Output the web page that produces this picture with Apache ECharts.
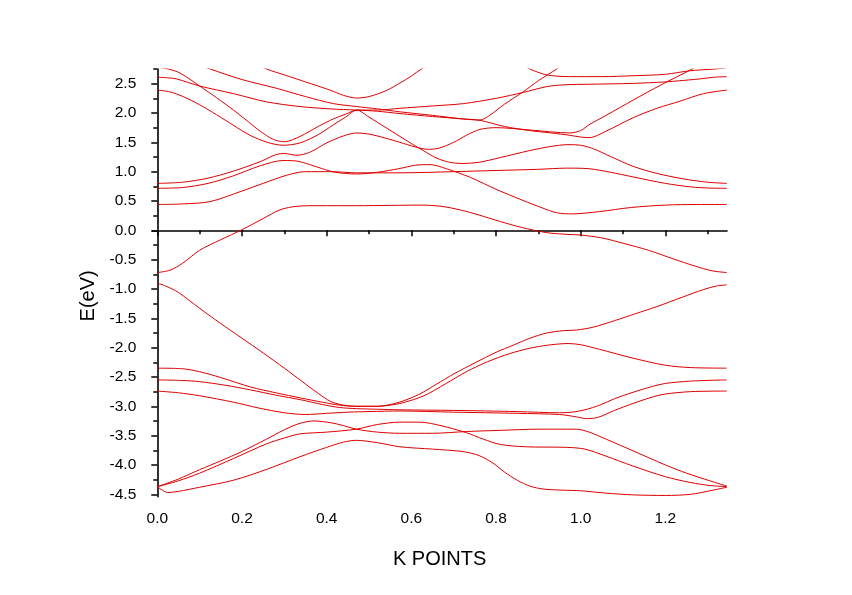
<!DOCTYPE html>
<html>
<head>
<meta charset="utf-8">
<script src="https://cdn.jsdelivr.net/npm/echarts@6/dist/echarts.min.js"></script>
<style>
  html, body { margin: 0; padding: 0; background: #fff; }
  #chart { width: 852px; height: 595px; }
</style>
</head>
<body>
<div id="chart"></div>
<script>
// ---- axis ticks ----
const kMajor = [0.0, 0.2, 0.4, 0.6, 0.8, 1.0, 1.2];
const kMinor = [0.1, 0.3, 0.5, 0.7, 0.9, 1.1, 1.3];
const eMajor = [-4.5, -4.0, -3.5, -3.0, -2.5, -2.0, -1.5, -1.0, -0.5, 0.0, 0.5, 1.0, 1.5, 2.0, 2.5];
const eMinor = [-4.25, -3.75, -3.25, -2.75, -2.25, -1.75, -1.25, -0.75, -0.25, 0.25, 0.75, 1.25, 1.75, 2.25, 2.75];
const kRange = [-0.0118, 1.3455];
const eRange = [-4.541, 2.75];

// ---- valence bands [k, E] ----
const vb1 = [[0,-0.90],[0.02,-0.95],[0.05,-1.06],[0.1,-1.33],[0.15,-1.59],[0.2,-1.84],[0.25,-2.09],[0.3,-2.35],[0.35,-2.62],[0.38,-2.78],[0.41,-2.92],[0.44,-2.98],[0.47,-3.00],[0.52,-3.00],[0.55,-2.97],[0.58,-2.91],[0.62,-2.79],[0.66,-2.62],[0.7,-2.45],[0.75,-2.26],[0.8,-2.08],[0.84,-1.96],[0.88,-1.84],[0.92,-1.75],[0.96,-1.71],[0.99,-1.70],[1.03,-1.65],[1.08,-1.54],[1.13,-1.42],[1.18,-1.30],[1.24,-1.14],[1.29,-1.01],[1.32,-0.95],[1.345,-0.93]];
const vb2 = [[0,-2.35],[0.06,-2.36],[0.1,-2.41],[0.15,-2.51],[0.22,-2.67],[0.28,-2.77],[0.34,-2.86],[0.39,-2.93],[0.43,-2.98],[0.47,-3.00],[0.52,-3.00],[0.55,-2.98],[0.58,-2.94],[0.63,-2.82],[0.68,-2.62],[0.73,-2.41],[0.78,-2.24],[0.833,-2.10],[0.88,-2.01],[0.92,-1.96],[0.97,-1.93],[1.0,-1.95],[1.045,-2.03],[1.124,-2.18],[1.2,-2.30],[1.26,-2.34],[1.345,-2.35]];
const vb3 = [[0,-2.55],[0.06,-2.56],[0.1,-2.58],[0.16,-2.64],[0.22,-2.72],[0.28,-2.81],[0.34,-2.89],[0.39,-2.97],[0.43,-3.02],[0.47,-3.04],[0.52,-3.05],[0.573,-3.06],[0.7,-3.07],[0.85,-3.09],[0.95,-3.11],[0.98,-3.10],[1.01,-3.06],[1.045,-2.98],[1.08,-2.87],[1.124,-2.76],[1.17,-2.66],[1.2,-2.61],[1.26,-2.57],[1.345,-2.55]];
const vb4 = [[0,-2.74],[0.05,-2.77],[0.1,-2.82],[0.18,-2.93],[0.24,-3.03],[0.3,-3.11],[0.35,-3.14],[0.4,-3.12],[0.45,-3.10],[0.5,-3.09],[0.573,-3.08],[0.7,-3.10],[0.85,-3.12],[0.95,-3.14],[0.99,-3.18],[1.014,-3.21],[1.04,-3.19],[1.08,-3.07],[1.124,-2.95],[1.17,-2.84],[1.2,-2.79],[1.26,-2.75],[1.345,-2.74]];
const vb5 = [[0,-4.37],[0.05,-4.24],[0.1,-4.08],[0.15,-3.93],[0.2,-3.77],[0.258,-3.56],[0.3,-3.40],[0.337,-3.29],[0.37,-3.25],[0.41,-3.28],[0.44,-3.33],[0.47,-3.39],[0.52,-3.44],[0.573,-3.46],[0.65,-3.46],[0.73,-3.43],[0.81,-3.41],[0.9,-3.39],[0.99,-3.39],[1.02,-3.44],[1.06,-3.56],[1.124,-3.76],[1.2,-4.0],[1.25,-4.14],[1.305,-4.27],[1.345,-4.36]];
const vb6 = [[0,-4.37],[0.05,-4.27],[0.1,-4.14],[0.18,-3.89],[0.258,-3.64],[0.3,-3.54],[0.337,-3.47],[0.4,-3.44],[0.47,-3.39],[0.52,-3.31],[0.573,-3.27],[0.62,-3.27],[0.67,-3.33],[0.73,-3.45],[0.77,-3.56],[0.81,-3.65],[0.87,-3.69],[0.967,-3.70],[1.01,-3.73],[1.06,-3.85],[1.124,-4.02],[1.2,-4.20],[1.26,-4.30],[1.305,-4.35],[1.345,-4.37]];
const vb7 = [[0,-4.37],[0.012,-4.43],[0.025,-4.47],[0.05,-4.45],[0.1,-4.38],[0.18,-4.26],[0.26,-4.07],[0.337,-3.86],[0.4,-3.70],[0.44,-3.61],[0.47,-3.58],[0.52,-3.62],[0.573,-3.69],[0.65,-3.73],[0.72,-3.77],[0.76,-3.84],[0.793,-3.97],[0.82,-4.12],[0.85,-4.26],[0.88,-4.36],[0.911,-4.41],[0.96,-4.43],[1.0,-4.44],[1.06,-4.48],[1.124,-4.51],[1.2,-4.52],[1.26,-4.50],[1.305,-4.44],[1.345,-4.38]];

// ---- conduction bands [k, E] ----
const cb1 = [[0,-0.72],[0.03,-0.68],[0.06,-0.56],[0.1,-0.34],[0.15,-0.16],[0.2,0.01],[0.25,0.20],[0.29,0.35],[0.33,0.41],[0.38,0.42],[0.47,0.42],[0.55,0.425],[0.62,0.43],[0.67,0.41],[0.72,0.34],[0.76,0.26],[0.81,0.15],[0.86,0.05],[0.92,-0.04],[0.97,-0.07],[1.0,-0.08],[1.05,-0.13],[1.1,-0.22],[1.16,-0.34],[1.22,-0.49],[1.27,-0.61],[1.31,-0.69],[1.345,-0.72]];
const cb2 = [[0,0.44],[0.06,0.45],[0.125,0.49],[0.2,0.67],[0.25,0.80],[0.306,0.94],[0.35,1.00],[0.41,1.00],[0.47,0.98],[0.573,0.98],[0.7,1.00],[0.8,1.02],[0.9,1.04],[0.967,1.06],[1.02,1.05],[1.07,0.99],[1.124,0.91],[1.2,0.80],[1.26,0.74],[1.305,0.72],[1.345,0.716]];
const cb3 = [[0,0.716],[0.06,0.73],[0.12,0.80],[0.18,0.93],[0.243,1.10],[0.297,1.19],[0.33,1.18],[0.36,1.12],[0.39,1.05],[0.42,0.99],[0.47,0.96],[0.52,0.99],[0.57,1.05],[0.61,1.11],[0.644,1.12],[0.683,1.05],[0.74,0.90],[0.8,0.70],[0.86,0.52],[0.91,0.38],[0.943,0.30],[0.98,0.28],[1.045,0.32],[1.12,0.39],[1.2,0.43],[1.27,0.44],[1.345,0.44]];
const cb4 = [[0,0.80],[0.06,0.82],[0.12,0.89],[0.18,1.01],[0.243,1.17],[0.28,1.29],[0.3,1.31],[0.33,1.28],[0.36,1.33],[0.4,1.49],[0.44,1.61],[0.471,1.66],[0.5,1.64],[0.54,1.57],[0.573,1.50],[0.61,1.42],[0.64,1.38],[0.665,1.40],[0.7,1.50],[0.73,1.62],[0.762,1.72],[0.8,1.75],[0.88,1.71],[0.974,1.66],[1.0,1.70],[1.02,1.80],[1.06,1.96],[1.124,2.22],[1.19,2.48],[1.258,2.73],[1.3,2.90]];
const cb5 = [[0,2.39],[0.03,2.36],[0.061,2.28],[0.1,2.14],[0.14,1.97],[0.18,1.79],[0.219,1.62],[0.26,1.50],[0.297,1.45],[0.337,1.49],[0.38,1.63],[0.416,1.80],[0.445,1.93],[0.471,2.05],[0.5,1.93],[0.54,1.75],[0.573,1.60],[0.6,1.48],[0.628,1.36],[0.66,1.23],[0.69,1.16],[0.72,1.14],[0.76,1.16],[0.81,1.24],[0.88,1.36],[0.93,1.43],[0.97,1.46],[1.0,1.45],[1.03,1.39],[1.07,1.26],[1.124,1.09],[1.18,0.97],[1.24,0.88],[1.3,0.82],[1.345,0.80]];
const cb6 = [[0,2.61],[0.025,2.60],[0.046,2.58],[0.1,2.46],[0.18,2.33],[0.258,2.19],[0.337,2.11],[0.408,2.07],[0.471,2.05],[0.52,2.03],[0.573,1.99],[0.65,1.94],[0.72,1.90],[0.762,1.875],[0.82,1.77],[0.88,1.70],[0.93,1.66],[0.974,1.62],[1.0,1.59],[1.02,1.58],[1.06,1.69],[1.124,1.92],[1.18,2.08],[1.234,2.20],[1.29,2.33],[1.345,2.39]];
const cb7 = [[0,2.78],[0.026,2.75],[0.054,2.68],[0.1,2.46],[0.14,2.26],[0.18,2.05],[0.215,1.85],[0.243,1.69],[0.274,1.55],[0.3,1.51],[0.337,1.60],[0.38,1.77],[0.416,1.90],[0.445,1.98],[0.471,2.05],[0.52,2.05],[0.573,2.08],[0.65,2.12],[0.723,2.16],[0.8,2.25],[0.864,2.35],[0.92,2.45],[0.96,2.48],[1.02,2.49],[1.124,2.505],[1.2,2.53],[1.234,2.55],[1.28,2.58],[1.315,2.61],[1.345,2.62]];
const cb8 = [[0,3.05],[0.06,2.92],[0.125,2.75],[0.2,2.57],[0.282,2.42],[0.35,2.28],[0.416,2.16],[0.471,2.11],[0.52,2.07],[0.573,2.02],[0.65,1.96],[0.72,1.90],[0.762,1.88],[0.785,1.96],[0.82,2.15],[0.864,2.36],[0.9,2.55],[0.943,2.75],[0.98,2.95]];
const cb9 = [[0.2,2.95],[0.258,2.75],[0.3,2.65],[0.35,2.53],[0.408,2.39],[0.44,2.30],[0.471,2.255],[0.5,2.28],[0.54,2.38],[0.573,2.51],[0.6,2.63],[0.624,2.75],[0.66,2.9],[0.75,3.05],[0.82,2.95],[0.88,2.75],[0.919,2.65],[0.974,2.62],[1.05,2.62],[1.124,2.635],[1.2,2.66],[1.258,2.72],[1.317,2.75],[1.345,2.77]];

const bands = [vb1, vb2, vb3, vb4, vb5, vb6, vb7, cb1, cb2, cb3, cb4, cb5, cb6, cb7, cb8, cb9];

const FONT = 'Arial, "Liberation Sans", sans-serif';
const fmt = v => v.toFixed(1);

const chart = echarts.init(document.getElementById('chart'), null, { renderer: 'canvas' });
chart.setOption({
  animation: false,
  backgroundColor: '#ffffff',
  grid: { left: 152.3, right: 125, top: 69, bottom: 98.3, containLabel: false },
  xAxis: [
    {
      type: 'value', min: kRange[0], max: kRange[1], position: 'bottom',
      name: 'K POINTS', nameLocation: 'middle', nameGap: 53,
      nameTextStyle: { fontFamily: FONT, fontSize: 20, color: '#000' },
      axisLine: { show: true, lineStyle: { color: '#000', width: 1.6 } },
      axisTick: { show: true, customValues: kMajor, length: 6, lineStyle: { color: '#000', width: 1.5 } },
      axisLabel: { show: true, customValues: kMajor, formatter: fmt, margin: 14, fontFamily: FONT, fontSize: 15.5, color: '#000' },
      splitLine: { show: false }
    },
    {
      type: 'value', min: kRange[0], max: kRange[1], position: 'bottom',
      axisLine: { show: false },
      axisTick: { show: true, customValues: kMinor, length: 4, lineStyle: { color: '#000', width: 1.5 } },
      axisLabel: { show: false },
      splitLine: { show: false }
    }
  ],
  yAxis: [
    {
      type: 'value', min: eRange[0], max: eRange[1], position: 'left',
      name: 'E(eV)', nameLocation: 'middle', nameGap: 54, nameRotate: 90,
      nameTextStyle: { fontFamily: FONT, fontSize: 20, color: '#000', padding: [0, 26, 0, 0] },
      axisLine: { show: true, lineStyle: { color: '#000', width: 1.6 } },
      axisTick: { show: true, customValues: eMajor, length: 6, lineStyle: { color: '#000', width: 1.5 } },
      axisLabel: { show: true, customValues: eMajor, formatter: fmt, margin: 16, fontFamily: FONT, fontSize: 15.5, color: '#000' },
      splitLine: { show: false }
    },
    {
      type: 'value', min: eRange[0], max: eRange[1], position: 'left',
      axisLine: { show: false },
      axisTick: { show: true, customValues: eMinor, length: 4, lineStyle: { color: '#000', width: 1.5 } },
      axisLabel: { show: false },
      splitLine: { show: false }
    }
  ],
  series: bands.map(d => ({
    type: 'line', xAxisIndex: 0, yAxisIndex: 0, data: d,
    showSymbol: false, smooth: 0.3, clip: true,
    lineStyle: { color: '#dd0000', width: 1 },
    emphasis: { disabled: true }
  }))
});
</script>
</body>
</html>
